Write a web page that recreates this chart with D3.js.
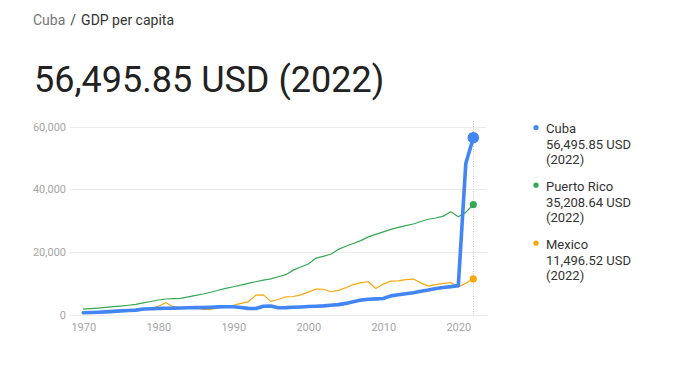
<!DOCTYPE html>
<html>
<head>
<meta charset="utf-8">
<script src="https://cdn.jsdelivr.net/npm/d3@7"></script>
<style>
  body { margin: 0; background: #fff; font-family: Roboto, "Noto Sans", sans-serif; }
  svg text { font-family: Roboto, "Noto Sans", sans-serif; }
</style>
</head>
<body>
<div id="page"></div>
<script>
(function() {

  "use strict";

  var years = d3.range(1970, 2023);

  // values, USD per capita
  var cuba = [
    740, 820, 900, 1000, 1150, 1300, 1420, 1550, 1900, 2000,
    2100, 2150, 2200, 2250, 2300, 2340, 2350, 2450, 2600, 2650,
    2650, 2400, 2100, 2050, 2800, 2850, 2330, 2350, 2450, 2550,
    2700, 2800, 2900, 3100, 3300, 3700, 4200, 4750, 5000, 5150,
    5250, 6100, 6450, 6750, 7100, 7550, 7950, 8450, 8750, 9030,
    9350, 48300, 56495.85
  ];

  var puertoRico = [
    1900, 2050, 2200, 2400, 2650, 2850, 3100, 3400, 3850, 4300,
    4780, 5100, 5200, 5300, 5800, 6250, 6700, 7250, 7900, 8500,
    9000, 9500, 10100, 10600, 11100, 11500, 12200, 12850, 14300, 15300,
    16250, 18100, 18700, 19350, 20900, 21900, 22800, 23700, 24900, 25700,
    26500, 27300, 27900, 28500, 29000, 29800, 30500, 30900, 31500, 32900,
    31300, 32700, 35208.64
  ];

  var mexico = [
    680, 730, 820, 990, 1240, 1470, 1450, 1310, 1600, 2050,
    2800, 3900, 2650, 2050, 2300, 2400, 1750, 1800, 2300, 2700,
    3100, 3700, 4200, 6350, 6400, 4350, 4950, 5800, 5900, 6400,
    7300, 8250, 8200, 7400, 7850, 8700, 9700, 10300, 10600, 8450,
    9850, 10800, 10900, 11300, 11450, 10250, 9200, 9700, 10100, 10350,
    8900, 10100, 11496.52
  ];

  var yTicks = [0, 20000, 40000, 60000];
  var xTicks = [1970, 1980, 1990, 2000, 2010, 2020];

  var series = [
    { name: "Cuba", values: cuba, color: "#4285f4", width: 3.6, r: 5.8 },
    { name: "Puerto Rico", values: puertoRico, color: "#34a853", width: 1.2, r: 3.6 },
    { name: "Mexico", values: mexico, color: "#f9a80a", width: 1.2, r: 3.6 }
  ];

  /* * * * * * * * * * * * * * * * * * * */

  var W = 683, H = 375;

  var svg = d3.select("#page").append("svg")
    .attr("width", W)
    .attr("height", H);

  var head = svg.append("text")
    .attr("x", 33)
    .attr("y", 25)
    .style("font-size", "14px");
  head.append("tspan").attr("fill", "#757575").text("Cuba");
  head.append("tspan").attr("fill", "#444").attr("dx", 5).text("/");
  head.append("tspan").attr("fill", "#333").attr("dx", 5).text("GDP per capita");

  svg.append("text")
    .attr("x", 34)
    .attr("y", 92)
    .attr("fill", "#222")
    .style("font-size", "36px")
    .text(d3.format(",.2f")(cuba[cuba.length - 1]) + " USD (" + years[years.length - 1] + ")");

  /* * * * * * * * * * * * * * * * * * * */

  var x = d3.scaleLinear().domain([1970, 2020]).range([83.3, 458.3]);
  var y = d3.scaleLinear().domain([0, 60000]).range([315, 126.7]);

  var grid = svg.append("g");
  grid.selectAll("line")
    .data(yTicks)
    .enter().append("line")
    .attr("x1", 70)
    .attr("x2", 487)
    .attr("y1", function(d) { return Math.round(y(d)) + 0.5; })
    .attr("y2", function(d) { return Math.round(y(d)) + 0.5; })
    .attr("stroke", "#ebebeb")
    .attr("stroke-width", 1);

  var yAxis = svg.append("g")
    .attr("transform", "translate(66,0)")
    .call(d3.axisLeft(y).tickValues(yTicks).tickFormat(d3.format(",")).tickSize(0).tickPadding(0));
  yAxis.select(".domain").remove();
  yAxis.selectAll("text")
    .attr("fill", "#a6a6a6")
    .style("font-size", "11px");

  var xAxis = svg.append("g")
    .attr("transform", "translate(0,320)")
    .call(d3.axisBottom(x).tickValues(xTicks).tickFormat(d3.format("d")).tickSize(0).tickPadding(3));
  xAxis.select(".domain").remove();
  xAxis.selectAll("text")
    .attr("fill", "#a6a6a6")
    .style("font-size", "11px");

  var lastYear = years[years.length - 1];
  svg.append("line")
    .attr("x1", Math.round(x(lastYear)) + 0.5)
    .attr("x2", Math.round(x(lastYear)) + 0.5)
    .attr("y1", 121)
    .attr("y2", 315)
    .attr("stroke", "#c8c8c8")
    .attr("stroke-width", 1)
    .attr("stroke-dasharray", "1,1.5");

  /* * * * * * * * * * * * * * * * * * * */

  var line = d3.line()
    .x(function(d, i) { return x(years[i]); })
    .y(function(d) { return y(d); });

  var drawOrder = [series[1], series[2], series[0]];

  svg.append("g").selectAll("path")
    .data(drawOrder)
    .enter().append("path")
    .attr("d", function(s) { return line(s.values); })
    .attr("fill", "none")
    .attr("stroke", function(s) { return s.color; })
    .attr("stroke-width", function(s) { return s.width; })
    .attr("stroke-linejoin", "round")
    .attr("stroke-linecap", "round");

  svg.append("g").selectAll("circle")
    .data(drawOrder)
    .enter().append("circle")
    .attr("cx", x(lastYear))
    .attr("cy", function(s) { return y(s.values[s.values.length - 1]); })
    .attr("r", function(s) { return s.r; })
    .attr("fill", function(s) { return s.color; });

  /* * * * * * * * * * * * * * * * * * * */

  var legendTop = [133.3, 191, 249];

  var legend = svg.append("g").selectAll("g")
    .data(series)
    .enter().append("g")
    .attr("transform", function(s, i) { return "translate(0," + legendTop[i] + ")"; });

  legend.append("circle")
    .attr("cx", 536)
    .attr("cy", -5.8)
    .attr("r", 2.6)
    .attr("fill", function(s) { return s.color; });

  var lt = legend.append("text")
    .attr("x", 546)
    .attr("fill", "#333")
    .style("font-size", "13px");
  lt.append("tspan").attr("x", 546).attr("y", 0).text(function(s) { return s.name; });
  lt.append("tspan").attr("x", 546).attr("y", 15.6)
    .text(function(s) { return d3.format(",.2f")(s.values[s.values.length - 1]) + " USD"; });
  lt.append("tspan").attr("x", 546).attr("y", 31.2).text("(" + lastYear + ")");

})();
</script>
</body>
</html>
